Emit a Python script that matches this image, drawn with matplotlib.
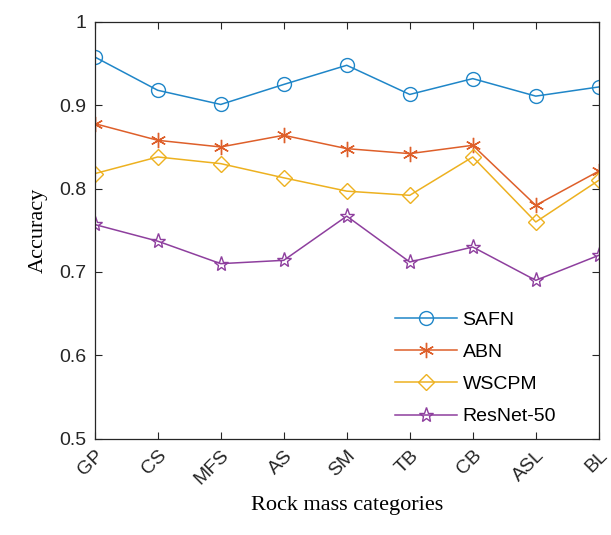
import matplotlib.pyplot as plt

plt.rcParams["font.family"] = ["Liberation Sans", "DejaVu Sans"]

# 数据
categories = ["GP", "CS", "MFS", "AS", "SM", "TB", "CB", "ASL", "BL"]
safn = [0.958, 0.918, 0.901, 0.925, 0.948, 0.913, 0.932, 0.911, 0.922]
abn = [0.878, 0.858, 0.850, 0.864, 0.848, 0.842, 0.852, 0.780, 0.821]
wscpm = [0.818, 0.838, 0.830, 0.813, 0.797, 0.792, 0.838, 0.760, 0.810]
resnet50 = [0.757, 0.737, 0.710, 0.714, 0.767, 0.712, 0.730, 0.690, 0.720]
yticks = [0.5, 0.6, 0.7, 0.8, 0.9, 1.0]
ytick_labels = ["0.5", "0.6", "0.7", "0.8", "0.9", "1"]

fig = plt.figure(figsize=(6.11, 5.35), dpi=100)
ax = fig.add_axes([0.155, 0.18, 0.825, 0.779])

x = list(range(len(categories)))
ax.plot(x, safn, "-o", color="#1f86c8", mfc="none", ms=10, lw=1.1, mew=1.0, label="SAFN")
ax.plot(x, abn, "-", marker=(6, 2, 0), color="#DE5F2A", ms=11, lw=1.1, mew=1.0, label="ABN")
ax.plot(x, wscpm, "-D", color="#EDB120", mfc="none", ms=8, lw=1.1, mew=1.0, label="WSCPM")
ax.plot(x, resnet50, "-*", color="#8E3F9E", mfc="none", ms=11, lw=1.1, mew=1.0, label="ResNet-50")

ax.set_xlim(0, len(categories) - 1)
ax.set_ylim(0.5, 1.0)
ax.set_xticks(x)
ax.set_xticklabels(categories, rotation=45, ha="right", va="top", rotation_mode="anchor")
ax.set_yticks(yticks)
ax.set_yticklabels(ytick_labels)
ax.tick_params(direction="in", top=True, right=True, length=5, width=0.8,
               labelsize=14, colors="#262626", pad=6)
for s in ax.spines.values():
    s.set_color("#262626")
    s.set_linewidth(0.9)

ax.set_xlabel("Rock mass categories", family="Liberation Serif", fontsize=16, labelpad=6)
ax.set_ylabel("Accuracy", family="Liberation Serif", fontsize=16, labelpad=8)

ax.legend(loc="lower right", bbox_to_anchor=(0.95, -0.01), frameon=False, fontsize=14,
          handlelength=3.2, handletextpad=0.3, labelspacing=0.75)

plt.savefig("out.png")
